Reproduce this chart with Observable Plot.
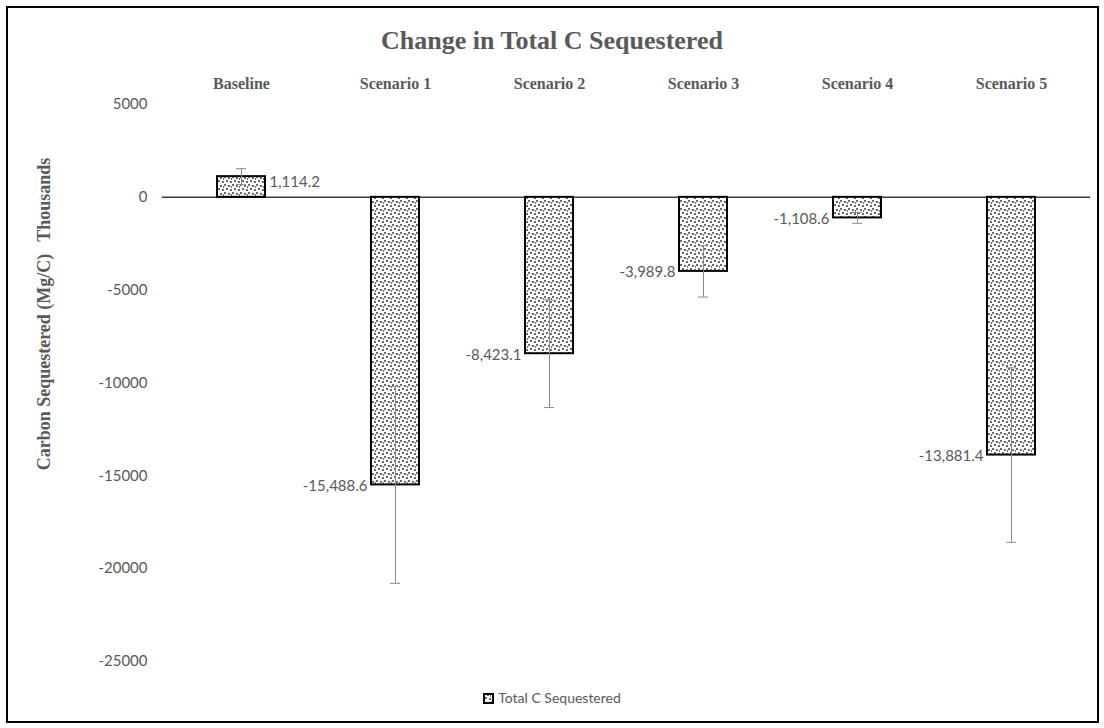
<!DOCTYPE html>
<html>
<head>
<meta charset="utf-8">
<script src="https://cdn.jsdelivr.net/npm/d3@7"></script>
<script src="https://cdn.jsdelivr.net/npm/@observablehq/plot@0.6"></script>
<style>
  html, body { margin: 0; padding: 0; background: #fff; }
  #wrap { position: relative; width: 1104px; height: 728px; overflow: hidden; background: #fff; }
  #wrap > svg { position: absolute; left: 0; top: 0; }
  #frame { position: absolute; left: 6px; top: 6px; width: 1089px; height: 713px; border: 2px solid #000; pointer-events: none; }
  #title { position: absolute; left: 0; width: 1104px; top: 26px; text-align: center; font-family: "Liberation Serif", "DejaVu Serif", serif; font-weight: bold; font-size: 26px; color: #595959; }
  #ylabel { position: absolute; left: 44px; top: 314px; transform: translate(-50%, -50%) rotate(-90deg); white-space: nowrap; font-family: "Liberation Serif", serif; font-weight: bold; font-size: 18px; color: #595959; }
  #ylabel span.gap { display: inline-block; width: 12px; }
  #legend { position: absolute; left: 0; width: 1104px; top: 689px; text-align: center; font-family: Lato, "Open Sans", sans-serif; font-size: 14px; color: #595959; }
  #legend svg { vertical-align: -1px; margin-right: 4px; }
</style>
</head>
<body>
<div id="wrap">
  <div id="title">Change in Total C Sequestered</div>
  <div id="ylabel">Carbon Sequestered (Mg/C)<span class="gap"></span>Thousands</div>
  <div id="legend"></div>
  <div id="frame"></div>
</div>
<script>
const categories = ["Baseline", "Scenario 1", "Scenario 2", "Scenario 3", "Scenario 4", "Scenario 5"];
const values = [1114.2, -15488.6, -8423.1, -3989.8, -1108.6, -13881.4];
const errors = [430, 5300, 2900, 1380, 290, 4700];
const yTicks = [5000, 0, -5000, -10000, -15000, -20000, -25000];
const seriesName = "Total C Sequestered";

const data = categories.map((c, i) => ({category: c, value: values[i], err: errors[i]}));
const locale = d3.formatLocale({decimal: ".", thousands: ",", grouping: [3], currency: ["$", ""], minus: "-"});
const fmt = locale.format(",.1f");

const labelFont = "Lato, 'Open Sans', sans-serif";
const gray = "#595959";
const errColor = "#8a8a8a";
const bandInset = 19;

const chart = Plot.plot({
  width: 1104,
  height: 728,
  marginLeft: 162,
  marginRight: 14,
  marginTop: 104,
  marginBottom: 67,
  style: {background: "transparent", color: gray, overflow: "visible"},
  x: {domain: categories, paddingInner: 0.69, paddingOuter: 0.345},
  y: {domain: [-25000, 5000]},
  marks: [
    Plot.axisX({anchor: "top", tickSize: 0, tickPadding: 16, label: null,
      fontFamily: "'Liberation Serif', serif", fontWeight: "bold", fontSize: 16, fill: gray}),
    Plot.axisY({ticks: yTicks, tickSize: 0, tickPadding: 15, label: null,
      tickFormat: d => String(d), fontFamily: labelFont, fontSize: 15, fill: gray}),
    Plot.ruleY([0], {stroke: "#3a3a3a", strokeWidth: 1.5}),
    Plot.barY(data, {x: "category", y: "value", fill: "url(#dots)", stroke: "#000", strokeWidth: 2}),
    Plot.ruleX(data, {x: "category", y1: d => d.value - d.err, y2: d => d.value + d.err, stroke: errColor, strokeWidth: 1}),
    Plot.tickY(data, {x: "category", y: d => d.value - d.err, insetLeft: bandInset, insetRight: bandInset, stroke: errColor, strokeWidth: 1}),
    Plot.tickY(data, {x: "category", y: d => d.value + d.err, insetLeft: bandInset, insetRight: bandInset, stroke: errColor, strokeWidth: 1}),
    Plot.text(data.filter(d => d.value < 0), {x: "category", y: "value", text: d => fmt(d.value),
      textAnchor: "end", dx: -28, dy: 1, fontFamily: labelFont, fontSize: 15, fill: gray}),
    Plot.text(data.filter(d => d.value >= 0), {x: "category", y: "value", text: d => fmt(d.value),
      textAnchor: "start", dx: 28, dy: 6, fontFamily: labelFont, fontSize: 15, fill: gray})
  ]
});

function addPattern(svg, id) {
  const ns = "http://www.w3.org/2000/svg";
  const defs = document.createElementNS(ns, "defs");
  const pat = document.createElementNS(ns, "pattern");
  pat.setAttribute("id", id);
  pat.setAttribute("patternUnits", "userSpaceOnUse");
  pat.setAttribute("width", "8");
  pat.setAttribute("height", "8");
  const bg = document.createElementNS(ns, "rect");
  bg.setAttribute("width", "8"); bg.setAttribute("height", "8"); bg.setAttribute("fill", "#fff");
  pat.appendChild(bg);
  [[0,0],[4,1],[2,4],[6,5],[7,2]].forEach(([x, y]) => {
    const r = document.createElementNS(ns, "rect");
    r.setAttribute("x", x); r.setAttribute("y", y);
    r.setAttribute("width", "2"); r.setAttribute("height", "2");
    r.setAttribute("fill", "#6a6a6a");
    pat.appendChild(r);
  });
  defs.appendChild(pat);
  svg.insertBefore(defs, svg.firstChild);
}
addPattern(chart, "dots");
document.getElementById("wrap").insertBefore(chart, document.getElementById("title"));

// legend
const lg = document.getElementById("legend");
const ns = "http://www.w3.org/2000/svg";
const sw = document.createElementNS(ns, "svg");
sw.setAttribute("width", "11"); sw.setAttribute("height", "11");
addPattern(sw, "dots2");
const swr = document.createElementNS(ns, "rect");
swr.setAttribute("x", "1"); swr.setAttribute("y", "1"); swr.setAttribute("width", "9"); swr.setAttribute("height", "9");
swr.setAttribute("fill", "url(#dots2)"); swr.setAttribute("stroke", "#000"); swr.setAttribute("stroke-width", "2");
sw.appendChild(swr);
lg.appendChild(sw);
lg.appendChild(document.createTextNode(seriesName));
</script>
</body>
</html>
